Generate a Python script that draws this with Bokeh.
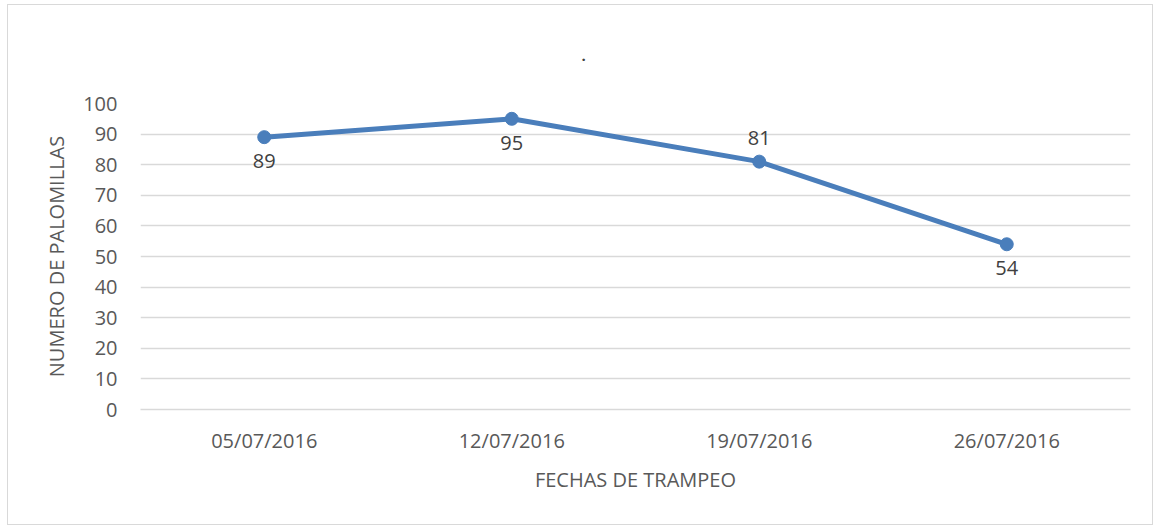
from bokeh.plotting import figure
from bokeh.models import ColumnDataSource, FactorRange, Range1d, SingleIntervalTicker, Title
from bokeh.core.properties import value
from bokeh.embed import file_html
from bokeh.resources import INLINE

# Data
fechas = ["05/07/2016", "12/07/2016", "19/07/2016", "26/07/2016"]
palomillas = [89, 95, 81, 54]
label_pos = ["below", "below", "above", "below"]

FONT = "Open Sans"
TXT = "#595959"
BLUE = "#4a7ebb"
GRID = "#d9d9d9"

offsets = [-24 if p == "above" else 24 for p in label_pos]
src = ColumnDataSource(dict(x=fechas, y=palomillas, lbl=[str(v) for v in palomillas], yo=offsets))

p = figure(width=1146, height=521, x_range=FactorRange(*fechas), y_range=Range1d(0, 100),
           output_backend="svg", toolbar_location=None,
           min_border_left=132, min_border_right=24, min_border_top=97, min_border_bottom=117)
p.styles = {"border": "1px solid #d9d9d9", "margin-left": "7px", "margin-top": "4px"}
p.outline_line_color = None
p.background_fill_color = "white"
p.border_fill_color = "white"

p.line("x", "y", source=src, line_color=BLUE, line_width=5)
p.scatter("x", "y", source=src, size=13, fill_color=BLUE, line_color=BLUE)
p.text("x", "y", text="lbl", source=src, y_offset="yo", text_align="center", text_baseline="middle",
       text_font=value(FONT), text_font_size="20px", text_color="#404040")

# Axes
p.yaxis.ticker = SingleIntervalTicker(interval=10)
p.yaxis.axis_line_color = None
p.yaxis.major_tick_line_color = None
p.yaxis.minor_tick_line_color = None
p.yaxis.major_label_standoff = 17
p.yaxis.major_label_text_font = FONT
p.yaxis.major_label_text_font_size = "20px"
p.yaxis.major_label_text_color = TXT
p.yaxis.axis_label = "NUMERO DE PALOMILLAS"
p.yaxis.axis_label_text_font = FONT
p.yaxis.axis_label_text_font_size = "20px"
p.yaxis.axis_label_text_font_style = "normal"
p.yaxis.axis_label_text_color = TXT
p.yaxis.axis_label_standoff = 10

p.xaxis.axis_line_color = GRID
p.xaxis.axis_line_width = 1.5
p.xaxis.major_tick_line_color = None
p.xaxis.minor_tick_line_color = None
p.xaxis.major_label_standoff = 11
p.xaxis.major_label_text_font = FONT
p.xaxis.major_label_text_font_size = "20px"
p.xaxis.major_label_text_color = TXT
p.xaxis.axis_label = "FECHAS DE TRAMPEO"
p.xaxis.axis_label_text_font = FONT
p.xaxis.axis_label_text_font_size = "20px"
p.xaxis.axis_label_text_font_style = "normal"
p.xaxis.axis_label_text_color = TXT
p.xaxis.axis_label_standoff = 9

p.xgrid.grid_line_color = None
p.ygrid.grid_line_color = GRID
p.ygrid.grid_line_width = 1.5

# Title "."
p.add_layout(Title(text=".", align="left", offset=441, standoff=86, text_font=FONT,
                   text_font_size="15px", text_font_style="bold", text_color="#404040"), "above")

open("out.html", "w").write(file_html(p, INLINE))
